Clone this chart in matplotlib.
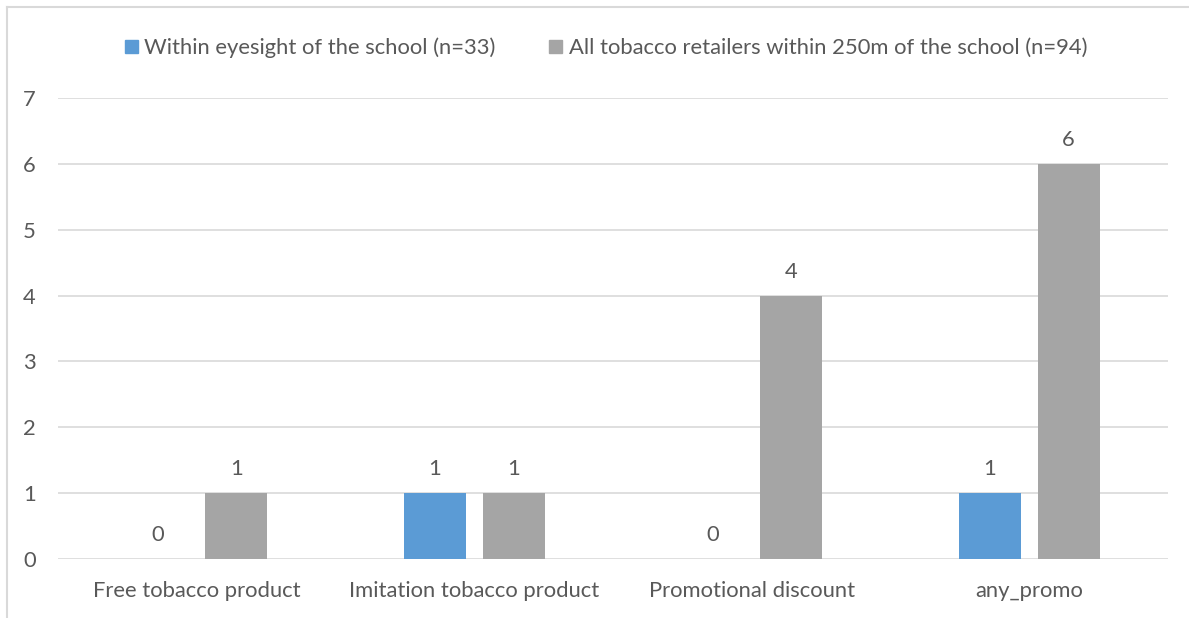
import matplotlib
matplotlib.use("Agg")
import matplotlib.pyplot as plt
import numpy as np
from matplotlib.lines import Line2D
from matplotlib.patches import Patch

categories = ["Free tobacco product", "Imitation tobacco product", "Promotional discount", "any_promo"]
within_eyesight = [0, 1, 0, 1]
all_retailers = [1, 1, 4, 6]
series_names = ["Within eyesight of the school (n=33)",
                "All tobacco retailers within 250m of the school (n=94)"]
yticks = [0, 1, 2, 3, 4, 5, 6, 7]

BLUE = "#5B9BD5"
GRAY = "#A5A5A5"
TXT = "#595959"
GRID = "#D9D9D9"
FS = 15.8

plt.rcParams['font.family'] = ['Lato', 'DejaVu Sans']

fig = plt.figure(figsize=(11.89, 6.18), dpi=100)
ax = fig.add_axes([58/1189, 1-559/618, (1168-58)/1189, (559-98)/618])

x = np.arange(len(categories))
w = 0.2234
off = 0.142
b1 = ax.bar(x - off, within_eyesight, w, color=BLUE, zorder=3)
b2 = ax.bar(x + off, all_retailers, w, color=GRAY, zorder=3)

for bars, vals in ((b1, within_eyesight), (b2, all_retailers)):
    for r, v in zip(bars, vals):
        ax.annotate(str(v), (r.get_x() + r.get_width()/2, v), xytext=(0, 10),
                    textcoords="offset points", ha="center", va="bottom",
                    fontsize=FS, color=TXT)

ax.set_xlim(-0.5, len(categories) - 0.5)
ax.set_ylim(0, 7)
ax.set_yticks(yticks)
ax.set_yticklabels([str(t) for t in yticks])
ax.set_xticks(x)
ax.set_xticklabels(categories)
ax.tick_params(axis='both', length=0, labelsize=FS, colors=TXT)
ax.tick_params(axis='y', pad=16)
ax.tick_params(axis='x', pad=16)
ax.grid(axis='y', color=GRID, linewidth=1.2, zorder=0)
for s in ax.spines.values():
    s.set_visible(False)

handles = [Patch(color=BLUE), Patch(color=GRAY)]
leg = fig.legend(handles, series_names, loc="center", bbox_to_anchor=(606/1189, 1-48/618),
                 ncol=2, frameon=False, fontsize=FS, handlelength=0.58, handleheight=0.58,
                 handletextpad=0.3, columnspacing=2.45, labelcolor=TXT)

fig.add_artist(Line2D([7/1189, 7/1189], [0, 1-7/618], transform=fig.transFigure, color=GRID, lw=1.5))
fig.add_artist(Line2D([7/1189, 1], [1-7/618, 1-7/618], transform=fig.transFigure, color=GRID, lw=1.5))

fig.savefig("out.png", dpi=100)
